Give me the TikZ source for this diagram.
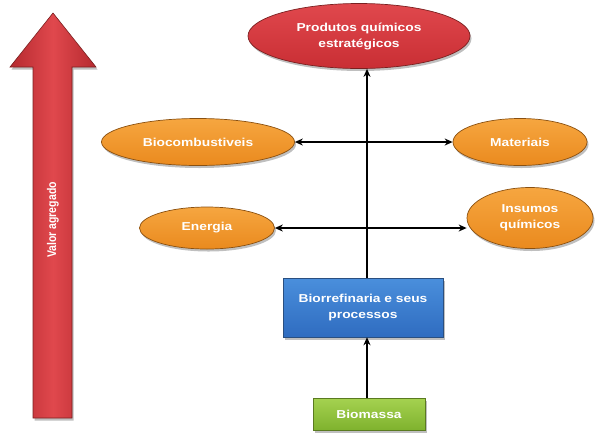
\documentclass[tikz,border=0pt]{standalone}
\usepackage{fontspec}
\newfontfamily\lblfont[FakeStretch=1.2]{Liberation Sans}
\newfontfamily\plainlblfont{Liberation Sans}
\usetikzlibrary{shapes.geometric,shadows,arrows.meta}

\definecolor{redTop}{HTML}{E0484D}
\definecolor{redBot}{HTML}{C92E34}
\definecolor{redRim}{HTML}{7A2020}
\definecolor{orTop}{HTML}{F6A640}
\definecolor{orBot}{HTML}{EA8A1E}
\definecolor{orRim}{HTML}{8A5010}
\definecolor{blTop}{HTML}{4A8FDC}
\definecolor{blBot}{HTML}{2F6CC0}
\definecolor{blRim}{HTML}{2A4F80}
\definecolor{grTop}{HTML}{A5D250}
\definecolor{grBot}{HTML}{7FB22E}
\definecolor{grRim}{HTML}{5A7A20}

\tikzset{
  lbl/.style={text=white, font=\lblfont\bfseries\fontsize{11.5}{16}\selectfont,
    align=center, inner sep=0pt},
  soft shadow/.style={drop shadow={shadow xshift=1.5pt, shadow yshift=-2.5pt,
    opacity=0.25, fill=black}},
  redoval/.style={lbl, ellipse, draw=redRim, line width=0.7pt,
    top color=redTop, bottom color=redBot, soft shadow},
  orangeoval/.style={lbl, ellipse, draw=orRim, line width=0.7pt,
    top color=orTop, bottom color=orBot, soft shadow},
  bluebox/.style={lbl, rectangle, draw=blRim, line width=0.5pt,
    top color=blTop, bottom color=blBot, soft shadow},
  greenbox/.style={lbl, rectangle, draw=grRim, line width=0.5pt,
    top color=grTop, bottom color=grBot, soft shadow},
  conn/.style={black, line width=1.8pt, arrows={-Stealth[length=8pt, width=7pt]}},
  dconn/.style={black, line width=1.8pt,
    arrows={Stealth[length=8pt, width=7pt]-Stealth[length=8pt, width=7pt]}}
}

\begin{document}
\begin{tikzpicture}[x=1pt, y=-1pt]
\useasboundingbox (0,0) rectangle (596,432);

% value-added arrow on the left
\shade[left color=redBot!90!black, right color=redBot!90!black, middle color=redTop,
  draw=redRim, line width=0.6pt, soft shadow]
  (33,418) -- (33,67) -- (10,67) -- (53,13) -- (96,67) -- (72,67) -- (72,418) -- cycle;
\node[text=white, font=\plainlblfont\bfseries\fontsize{10.5}{12}\selectfont,
  inner sep=0pt, xscale=1.2, rotate=90] (va) at (53,220) {Valor agregado};

% products and intermediate outputs
\node[redoval, minimum width=222pt, minimum height=65pt] (prod) at (359,36)
  {Produtos químicos\\estratégicos};
\node[orangeoval, minimum width=193pt, minimum height=47pt] (bio) at (198,142)
  {Biocombustiveis};
\node[orangeoval, minimum width=134pt, minimum height=47pt] (mat) at (520,142)
  {Materiais};
\node[orangeoval, minimum width=135pt, minimum height=42pt] (ene) at (207,228)
  {Energia};
\node[orangeoval, minimum width=126pt, minimum height=61pt] (ins) at (530,218)
  {Insumos\\químicos};

% refinery and feedstock
\node[bluebox, minimum width=160pt, minimum height=59pt] (ref) at (363,307.5)
  {Biorrefinaria e seus\\processos};
\node[greenbox, minimum width=112pt, minimum height=32pt] (bm) at (369,414)
  {Biomassa};

% connectors
\coordinate (axis) at (367,0);
\draw[conn] (ref.north -| axis) -- (prod.south -| axis);
\draw[dconn] (bio.east) -- (mat.west);
\draw[dconn] (ene.east) -- (ene.east -| ins.west);
\draw[conn] (bm.north -| axis) -- (ref.south -| axis);
\end{tikzpicture}
\end{document}
